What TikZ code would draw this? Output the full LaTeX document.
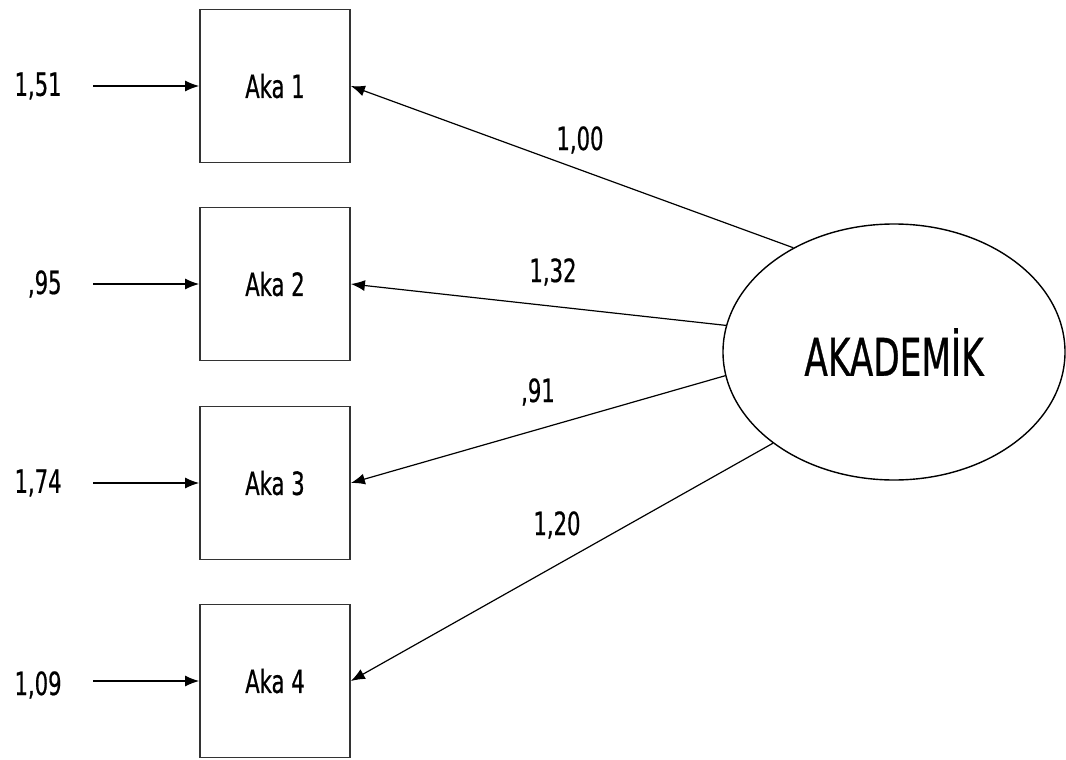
\documentclass[tikz,border=0pt]{standalone}
\usepackage{fontspec}
\setmainfont{DejaVu Sans}[FakeStretch=0.66,FakeBold=0.6]
\usetikzlibrary{arrows.meta,shapes.geometric}

\begin{document}
\begin{tikzpicture}[x=0.5pt,y=-0.5pt,
every node/.style={font=\fontsize{16}{18}\selectfont},
obs/.style={draw=black!80,line width=0.9pt,minimum width=75pt,minimum height=76.5pt,inner sep=0pt},
lat/.style={ellipse,draw,line width=0.7pt,minimum width=171pt,minimum height=128pt,inner sep=0pt,font=\fontsize{26}{30}\selectfont},
err/.style={anchor=east,inner sep=0pt},
load/.style={inner sep=0pt},
pil/.style={-{Latex[length=7pt,width=5.5pt]},line width=0.6pt}]
\useasboundingbox (0,0) rectangle (1066,760);
\node[obs] (A1) at (275,86) {Aka 1};
\node[obs] (A2) at (275,284) {Aka 2};
\node[obs] (A3) at (275,483) {Aka 3};
\node[obs] (A4) at (275,681) {Aka 4};
\node[lat] (AK) at (894,352) {AKADEM\.IK};
\node[err] (E1) at (62,86) {1,51};
\node[err] (E2) at (62,284) {,95};
\node[err] (E3) at (62,483) {1,74};
\node[err] (E4) at (62,685) {1,09};
\draw[pil,shorten <=15.5pt] (E1.east)--(A1.west);
\draw[pil,shorten <=15.5pt] (E2.east|-A2.west)--(A2.west);
\draw[pil,shorten <=15.5pt] (E3.east|-A3.west)--(A3.west);
\draw[pil,shorten <=15.5pt] (E4.east|-A4.west)--(A4.west);
\draw[pil] (AK.134)--(A1.east);
\draw[pil] (AK.171)--(A2.east);
\draw[pil] (AK.188)--(A3.east);
\draw[pil] (AK.217)--(A4.east);
\node[load] (L1) at (580,140) {1,00};
\node[load] (L2) at (553,272) {1,32};
\node[load] (L3) at (538,392) {,91};
\node[load] (L4) at (557,525) {1,20};
\end{tikzpicture}
\end{document}
